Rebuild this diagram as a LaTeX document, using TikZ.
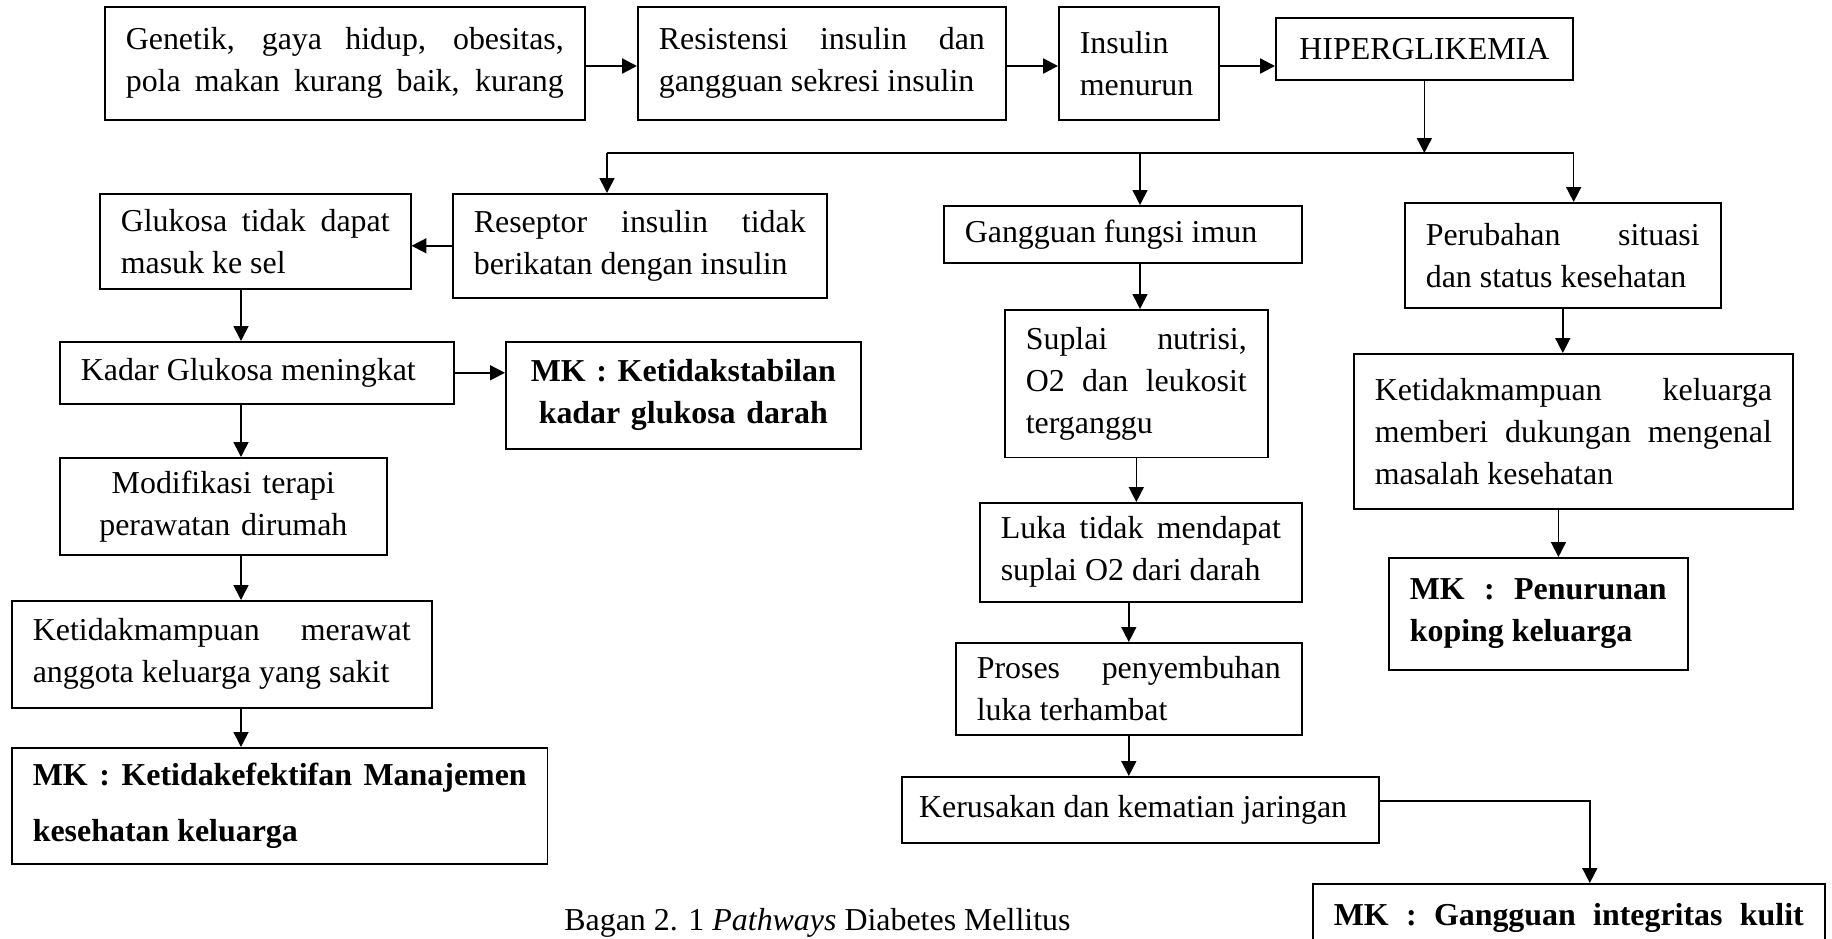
\documentclass[tikz,border=0pt]{standalone}
\usepackage{fontspec}
\setmainfont{Liberation Serif}
\usepackage{tikz}
\usetikzlibrary{arrows.meta}
\tolerance=10000
\hyphenpenalty=10000

\begin{document}
\begin{tikzpicture}[x=0.376pt,y=-0.376pt,
		box/.style={draw,line width=0.6pt,anchor=north west,inner xsep=7.9pt,inner ysep=2pt,align=justify,font=\fontsize{12pt}{15.8pt}\selectfont},
		mk/.style={box,font=\fontsize{12pt}{15.8pt}\selectfont\bfseries},
		arr/.style={line width=0.6pt,-{Triangle[length=5.6pt,width=5.6pt]}},
		toparr/.style={arr,line width=0.9pt}]
		\useasboundingbox (0,0) rectangle (1832,938);

		\node[box,text width=164.7pt,minimum height=42.5pt] (genetik) at (104,6) {Genetik, gaya hidup, obesitas,\linebreak \makebox[\linewidth][s]{pola makan kurang baik, kurang}};
		\node[box,text width=122.6pt,minimum height=42.5pt] (resistensi) at (637,6) {Resistensi insulin dan\linebreak gangguan sekresi insulin};
		\node[box,text width=44.4pt,minimum height=42.5pt] (insulin) at (1058,6) {Insulin\\menurun};
		\node[box,align=center,minimum width=111.7pt,minimum height=23.3pt] (hiper) at (1275,17) {HIPERGLIKEMIA};

		\node[box,text width=101.1pt,minimum height=35.7pt] (glukosa) at (99,193) {Glukosa tidak dapat\linebreak masuk ke sel};
		\node[box,text width=124.8pt,minimum height=39.1pt] (reseptor) at (452,193) {Reseptor insulin tidak\linebreak berikatan dengan insulin};
		\node[box,text width=118.8pt,minimum height=21.4pt] (imun) at (943,205) {Gangguan fungsi imun};
		\node[box,text width=103pt,minimum height=39.5pt] (perubahan) at (1404,202) {Perubahan situasi\linebreak dan status kesehatan};

		\node[box,text width=132.4pt,minimum height=23.3pt] (kadar) at (59,341) {Kadar Glukosa meningkat};
		\node[mk,text width=117.7pt,minimum height=40.2pt,align=center] (mkglukosa) at (505,341) {MK : Ketidakstabilan\\kadar glukosa darah};
		\node[box,text width=83.1pt,minimum height=55.6pt] (suplai) at (1004,309) {Suplai nutrisi,\linebreak O2 dan leukosit\linebreak terganggu};
		\node[box,text width=149.3pt,minimum height=58.3pt] (keluarga) at (1353,353) {Ketidakmampuan keluarga\linebreak memberi dukungan mengenal\linebreak masalah kesehatan};

		\node[box,text width=107.2pt,minimum height=36.5pt,align=center] (modifikasi) at (59,457) {Modifikasi terapi\\perawatan dirumah};
		\node[box,text width=105.3pt,minimum height=37.2pt] (luka) at (979,502) {Luka tidak mendapat\linebreak suplai O2 dari darah};
		\node[box,text width=142.1pt,minimum height=40.2pt] (merawat) at (11,600) {Ketidakmampuan merawat\linebreak anggota keluarga yang sakit};
		\node[mk,text width=96.6pt,minimum height=42.1pt] (penurunan) at (1388,557) {MK : Penurunan\linebreak koping keluarga};
		\node[box,text width=114.3pt,minimum height=34.6pt] (proses) at (955,642) {Proses penyembuhan\linebreak luka terhambat};

		\node[mk,text width=185.7pt,minimum height=43.6pt,font=\fontsize{12pt}{21pt}\selectfont\bfseries] (mkmanajemen) at (11,747) {MK : Ketidakefektifan Manajemen\linebreak kesehatan keluarga};
		\node[box,text width=166.5pt,inner xsep=6.5pt,minimum height=24.8pt] (kerusakan) at (901,776) {Kerusakan dan kematian jaringan};
		\node[mk,text width=176.7pt,minimum height=26pt] (mkkulit) at (1312,883) {\makebox[\linewidth][s]{MK : Gangguan integritas kulit}};

		\node[anchor=base west,font=\fontsize{12pt}{15.8pt}\selectfont] (bagan) at (555,930) {Bagan 2. 1 \textit{Pathways} Diabetes Mellitus};

		\coordinate (TOP) at (0,66);
		\foreach \a/\b in {genetik/resistensi,resistensi/insulin,insulin/hiper}
		\draw[toparr] (\a.east |- TOP) -- (\b.west |- TOP);

		\coordinate (BR0) at (607,153);
		\coordinate (BR1) at (1140,153);
		\coordinate (BR2) at (hiper.east |- BR0);
		\draw[arr] (hiper.south) -- (hiper.south |- BR0);
		\draw[line width=0.6pt] (BR0) -- (BR2);
		\draw[arr] (BR0) -- (BR0 |- reseptor.north);
		\draw[arr] (BR1) -- (BR1 |- imun.north);
		\draw[arr] (BR2) -- (BR2 |- perubahan.north);

		\coordinate (LC) at (241,0);
		\draw[arr] (reseptor.west) -- (reseptor.west -| glukosa.east);
		\foreach \a/\b in {glukosa/kadar,kadar/modifikasi,modifikasi/merawat,merawat/mkmanajemen}
		\draw[arr] (\a.south -| LC) -- (\b.north -| LC);
		\draw[arr] (kadar.east) -- (kadar.east -| mkglukosa.west);

		\draw[arr] (BR1 |- imun.south) -- (BR1 |- suplai.north);
		\draw[arr] (suplai.south) -- (suplai.south |- luka.north);
		\draw[arr] (proses.north |- luka.south) -- (proses.north);
		\draw[arr] (proses.south) -- (proses.south |- kerusakan.north);
		\coordinate (KR) at ([yshift=3.4pt]kerusakan.east);
		\coordinate (KU) at ([xshift=7.9pt]mkkulit.north);
		\draw[arr] (KR) -| (KU);

		\draw[arr] (perubahan.south) -- (perubahan.south |- keluarga.north);
		\coordinate (KL) at ([xshift=-5.6pt]keluarga.south);
		\draw[arr] (KL) -- (KL |- penurunan.north);
\end{tikzpicture}
\end{document}
